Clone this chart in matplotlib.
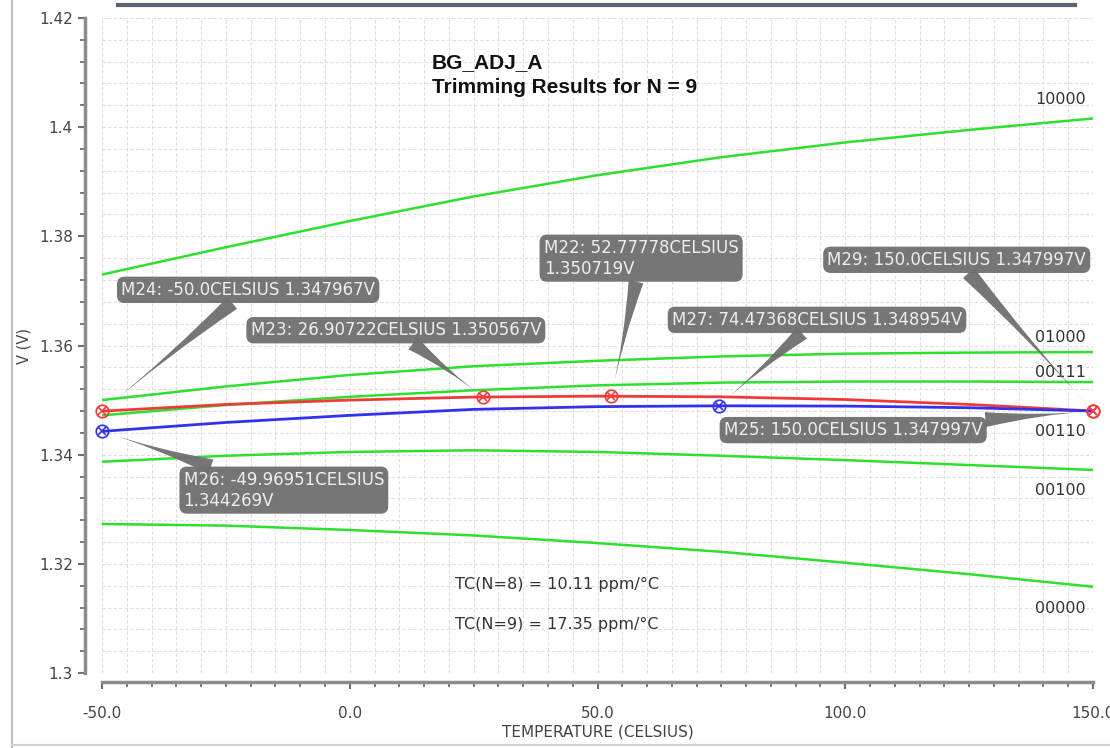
import matplotlib
matplotlib.use("Agg")
import matplotlib.pyplot as plt
from matplotlib.lines import Line2D
from matplotlib.ticker import MultipleLocator, FixedLocator

# temperature sweep (celsius)
temps = [-50, -25, 0, 25, 50, 75, 100, 125, 150]

# green trimming curves
v_10000 = [1.3730, 1.3780, 1.3828, 1.3873, 1.3912, 1.3945, 1.3972, 1.3995, 1.4016]
v_01000 = [1.3500, 1.3525, 1.3546, 1.3562, 1.3572, 1.3580, 1.3585, 1.3587, 1.3588]
v_00111 = [1.3472, 1.3491, 1.3506, 1.3518, 1.3527, 1.3532, 1.3534, 1.3534, 1.3533]
v_00100 = [1.3387, 1.3398, 1.3405, 1.3408, 1.3405, 1.3398, 1.3390, 1.3381, 1.3372]
v_00000 = [1.3273, 1.3270, 1.3262, 1.3252, 1.3238, 1.3222, 1.3202, 1.3181, 1.3158]

# red and blue result curves
v_red = [1.34797, 1.3492, 1.3500, 1.35055, 1.35072, 1.3506, 1.3501, 1.3492, 1.3480]
v_blue = [1.34427, 1.3459, 1.3472, 1.3483, 1.3488, 1.34895, 1.3489, 1.3486, 1.3480]

green_names = ["10000", "01000", "00111", "00110", "00100", "00000"]
green_label_y = [1.4050, 1.3614, 1.3551, 1.3442, 1.3335, 1.3119]

x_ticks = [-50, 0, 50, 100, 150]
x_ticklabels = ["-50.0", "0.0", "50.0", "100.0", "150.0"]
y_ticks = [1.30, 1.32, 1.34, 1.36, 1.38, 1.40, 1.42]
y_ticklabels = ["1.3", "1.32", "1.34", "1.36", "1.38", "1.4", "1.42"]

# markers: name, x, y, colour, box text, box centre (x, y)
markers = [
    ("M24", -50.0, 1.347967, "red", "M24: -50.0CELSIUS 1.347967V", -20.5, 1.3702),
    ("M23", 26.90722, 1.350567, "red", "M23: 26.90722CELSIUS 1.350567V", 9.3, 1.3628),
    ("M22", 52.77778, 1.350719, "red", "M22: 52.77778CELSIUS\n1.350719V", 58.8, 1.3760),
    ("M29", 150.0, 1.347997, "red", "M29: 150.0CELSIUS 1.347997V", 122.5, 1.3757),
    ("M27", 74.47368, 1.348954, "blue", "M27: 74.47368CELSIUS 1.348954V", 94.3, 1.3647),
    ("M25", 150.0, 1.347997, "red", "M25: 150.0CELSIUS 1.347997V", 101.6, 1.3445),
    ("M26", -49.96951, 1.344269, "blue", "M26: -49.96951CELSIUS\n1.344269V", -13.3, 1.3335),
]

green = "#2ee02e"
red = "#f03a3a"
blue = "#3232ee"
boxgrey = "#6f6f6f"

fig = plt.figure(figsize=(11.1, 7.48), dpi=100)
ax = fig.add_axes([102 / 1110, 1 - 673 / 748, 991 / 1110, 655 / 748])

for v in [v_10000, v_01000, v_00111, v_00100, v_00000]:
    ax.plot(temps, v, color=green, lw=1.8, zorder=3)
ax.plot(temps, v_red, color=red, lw=2.0, zorder=4)
ax.plot(temps, v_blue, color=blue, lw=2.0, zorder=4)

ax.set_xlim(-50, 150)
ax.set_ylim(1.30, 1.42)

ax.xaxis.set_major_locator(FixedLocator(x_ticks))
ax.xaxis.set_minor_locator(MultipleLocator(5))
ax.yaxis.set_major_locator(FixedLocator(y_ticks))
ax.yaxis.set_minor_locator(MultipleLocator(0.004))
ax.set_xticklabels(x_ticklabels)
ax.set_yticklabels(y_ticklabels)

ax.grid(which="both", color="#dedede", linestyle=(0, (3, 2)), lw=0.8, zorder=0)
for s in ["top", "right"]:
    ax.spines[s].set_visible(False)
ax.spines["left"].set_position(("outward", 12))
ax.spines["bottom"].set_position(("outward", 6.5))
for s in ["left", "bottom"]:
    ax.spines[s].set_color("#8c8c8c")
    ax.spines[s].set_linewidth(2.5)
ax.tick_params(which="major", length=5, width=1.5, color="#707070", labelsize=11,
               labelcolor="#444444")
ax.tick_params(which="minor", length=3.5, width=1.3, color="#707070")
ax.tick_params(axis="x", pad=12)
ax.tick_params(axis="y", pad=4)

ax.set_xlabel("TEMPERATURE (CELSIUS)", fontsize=11, color="#444444", labelpad=3)
ax.set_ylabel("V (V)", fontsize=10.5, color="#444444")
ax.yaxis.set_label_coords(-0.071, 0.5)

# title block
ax.text(16.6, 1.4135, "BG_ADJ_A\nTrimming Results for N = 9", fontsize=15,
        fontweight="bold", family="Liberation Sans", va="top", ha="left",
        linespacing=1.35, color="#111111")

# TC notes
ax.text(21.2, 1.3163, "TC(N=8) = 10.11 ppm/\u00b0C", fontsize=11.5, color="#333333",
        va="center", ha="left")
ax.text(21.2, 1.3088, "TC(N=9) = 17.35 ppm/\u00b0C", fontsize=11.5, color="#333333",
        va="center", ha="left")

# curve names at the right
for name, y in zip(green_names, green_label_y):
    ax.text(148.6, y, name, fontsize=11.5, color="#333333", ha="right", va="center",
            zorder=6)

# marker annotations
for name, mx, my, col, label, tx, ty in markers:
    ax.annotate(label, xy=(mx, my), xytext=(tx, ty), textcoords="data",
                fontsize=12, color="#eeeeee", ha="center", va="center",
                multialignment="left", zorder=7, annotation_clip=False,
                bbox=dict(boxstyle="round,pad=0.25,rounding_size=0.45",
                          fc=boxgrey, ec="none", alpha=0.95),
                arrowprops=dict(arrowstyle="wedge,tail_width=0.9,shrink_factor=0.2",
                                fc=boxgrey, ec="none", alpha=0.95,
                                shrinkA=0, shrinkB=0))

for name, mx, my, col, label, tx, ty in markers:
    c = red if col == "red" else blue
    ax.plot(mx, my, marker="o", ms=9, mfc="none", mec=c, mew=1.2, zorder=8,
            clip_on=False)
    ax.plot(mx, my, marker="x", ms=6, mec=c, mew=1.2, zorder=8, clip_on=False)

# window frame decoration
fig.add_artist(Line2D([118 / 1110, 1075 / 1110], [1 - 5 / 748, 1 - 5 / 748],
                      color="#5a6474", lw=3))
fig.add_artist(Line2D([12 / 1110, 12 / 1110], [0, 1], color="#bdbdbd", lw=1.5))
fig.add_artist(Line2D([12 / 1110, 1], [3 / 748, 3 / 748], color="#d0d0d0", lw=1.5))

fig.savefig("out.png", dpi=100)
